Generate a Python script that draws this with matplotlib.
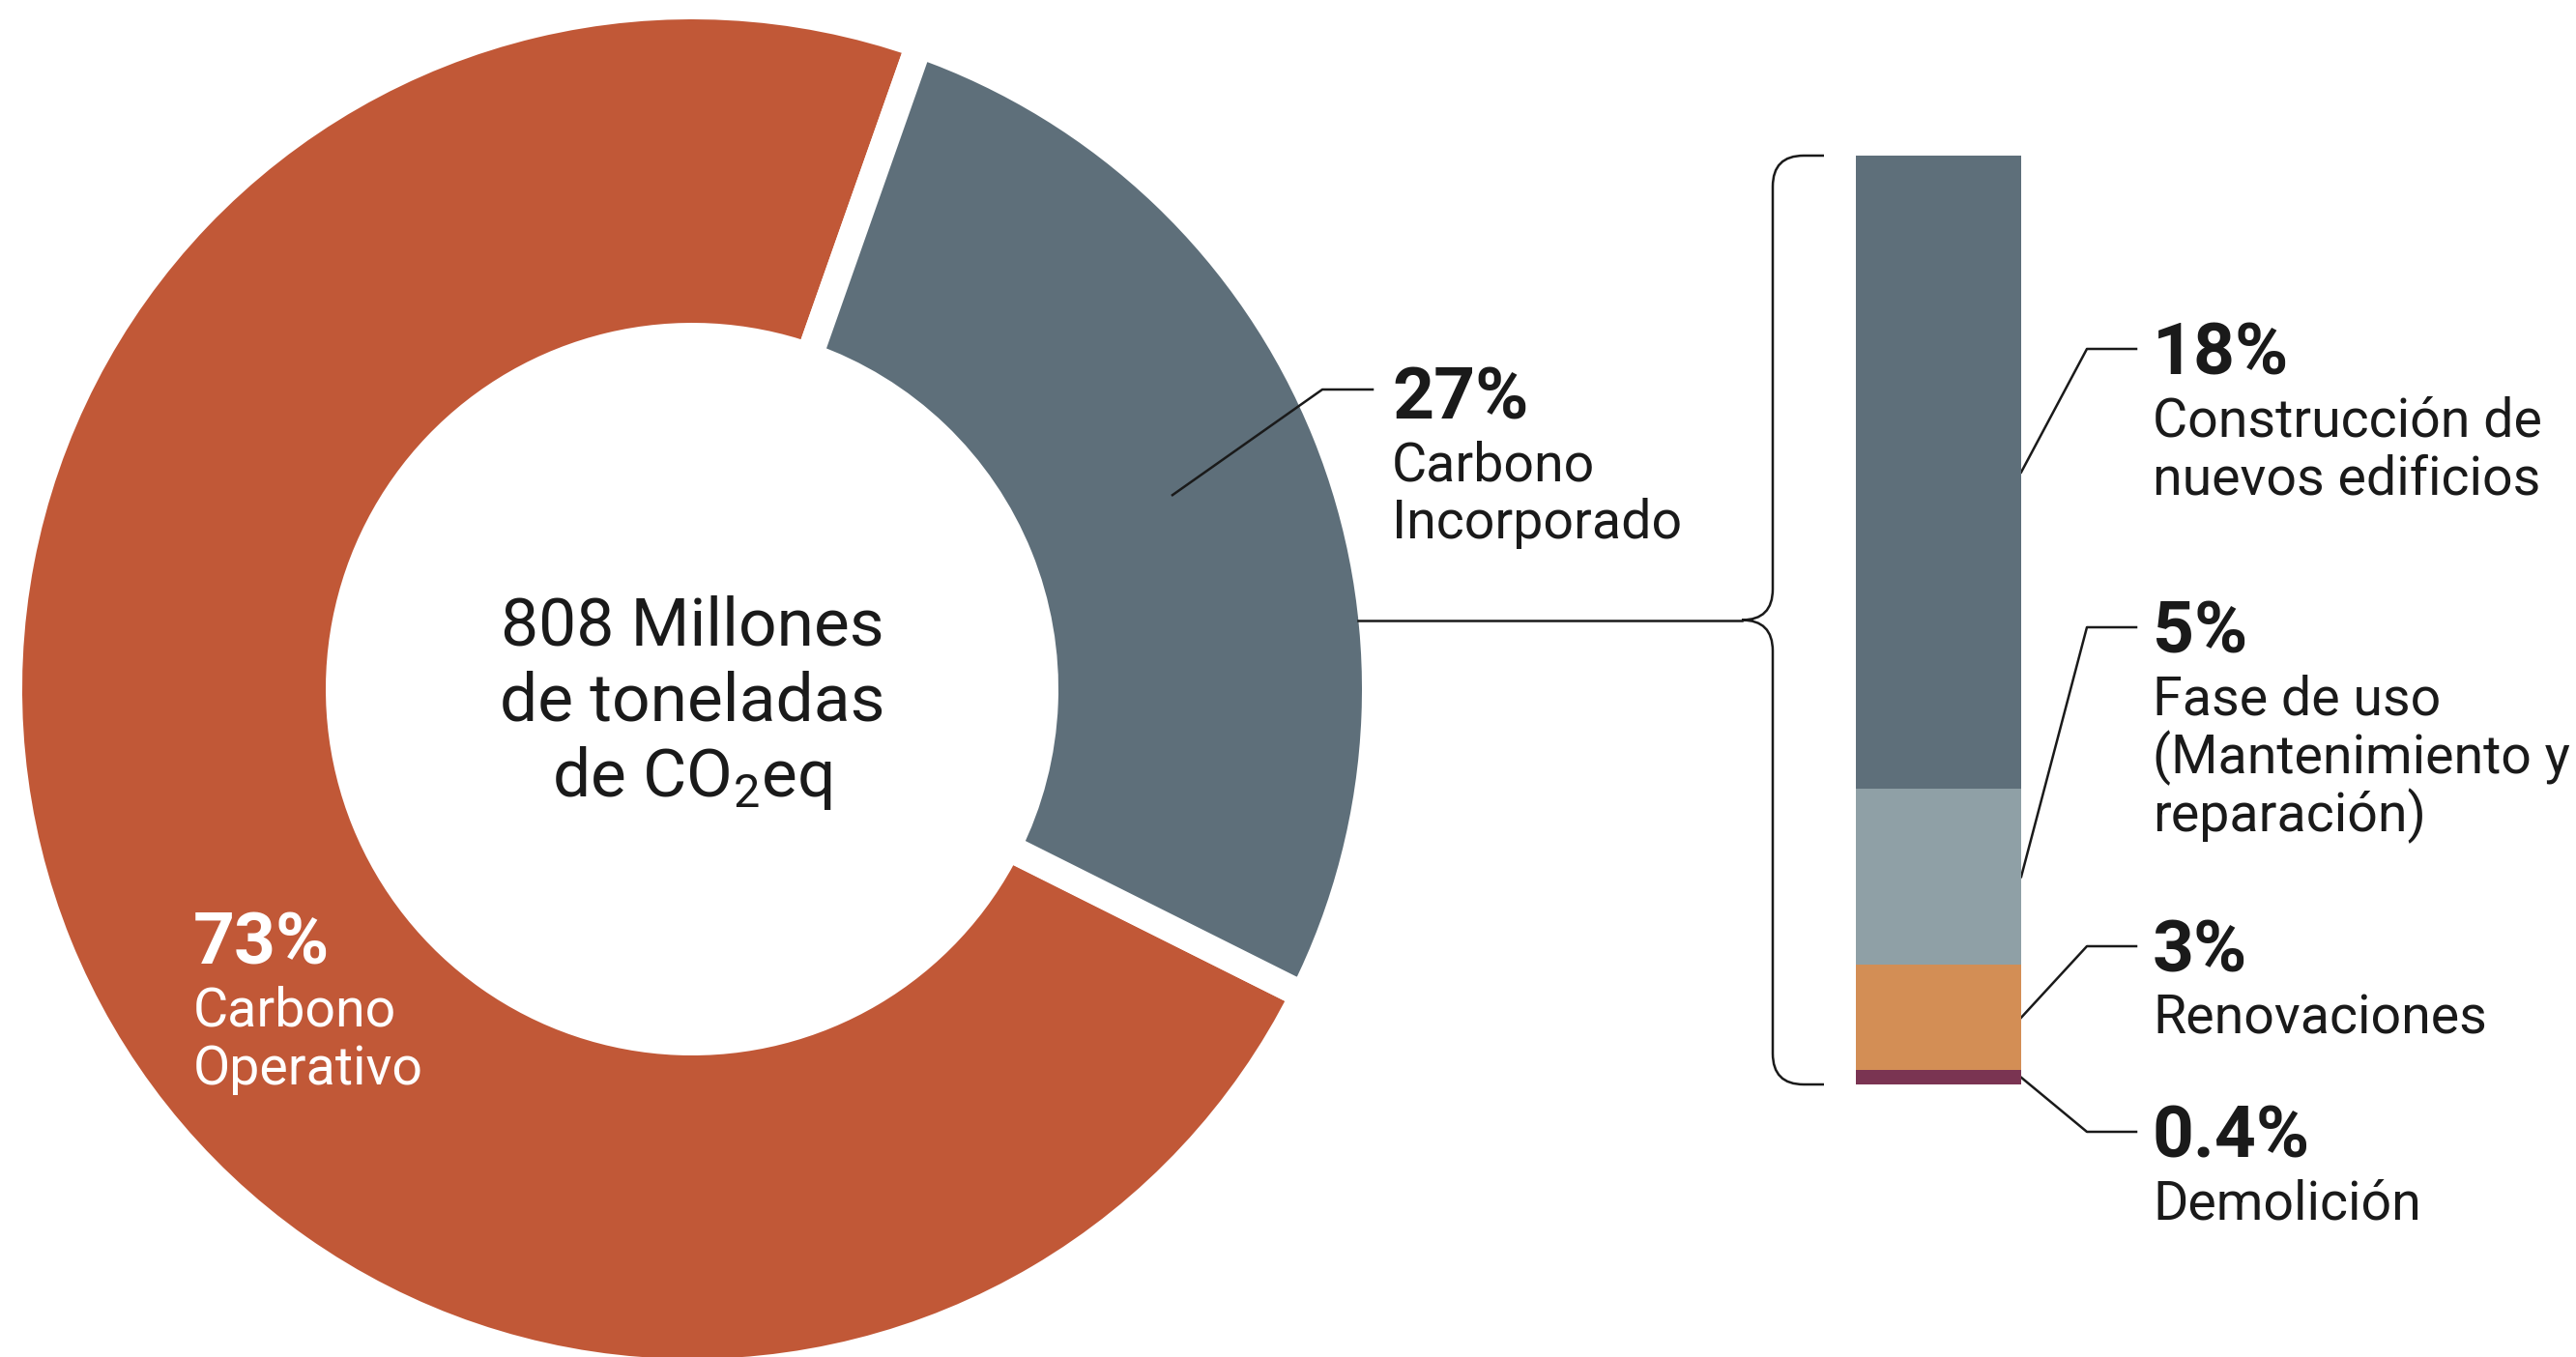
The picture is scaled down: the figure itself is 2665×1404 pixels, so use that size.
import numpy as np
import matplotlib.pyplot as plt
from matplotlib.path import Path
from matplotlib.patches import PathPatch

plt.rcParams['font.family'] = 'Roboto'
plt.rcParams['mathtext.fontset'] = 'custom'
plt.rcParams['mathtext.rm'] = 'Roboto'

W, H = 2665, 1404

# total emissions split (%)
main_pct = ['73%', '27%']
main_names = ['Carbono\nOperativo', 'Carbono\nIncorporado']
main_values = [73, 27]
main_colors = ['#C15837', '#5E6F7A']

# embodied carbon split (%)
sub_pct = ['18%', '5%', '3%', '0.4%']
sub_names = ['Construcción de\nnuevos edificios',
             'Fase de uso\n(Mantenimiento y\nreparación)',
             'Renovaciones',
             'Demolición']
sub_values = [18, 5, 3, 0.4]
sub_colors = ['#5E6F7A', '#8FA0A6', '#D38E55', '#7A3452']

center_lines = ['808 Millones', 'de toneladas', r'de CO$_\mathregular{2}$eq']

INK = '#1a1a1a'
PCT_SIZE = 54
NAME_SIZE = 40
LINE_GAP = 60


def label(ax, x, y, pct, name, color=INK):
    ax.text(x, y, pct, fontsize=PCT_SIZE, fontweight='bold', color=color,
            va='baseline', ha='left')
    for i, line in enumerate(name.split('\n')):
        ax.text(x, y + 64 + i * LINE_GAP, line, fontsize=NAME_SIZE,
                color=color, va='baseline', ha='left')


fig = plt.figure(figsize=(W / 100, H / 100), dpi=100)
ax = fig.add_axes([0, 0, 1, 1])

# donut
cx, cy = 716, 713
r_out, r_in = 693, 379
gap = 28
wedges, _ = ax.pie(main_values, colors=main_colors, startangle=26.6,
                   center=(cx, cy), radius=r_out + gap / 2, frame=True,
                   wedgeprops=dict(width=r_out - r_in + gap, edgecolor='white',
                                   linewidth=gap * 0.72))
ax.set_xlim(0, W)
ax.set_ylim(H, 0)
ax.set_aspect('equal')
ax.axis('off')

for i, line in enumerate(center_lines):
    ax.text(716, 668 + i * 78, line, fontsize=50, color=INK,
            ha='center', va='baseline')

label(ax, 200, 998, main_pct[0], main_names[0], color='white')

# leader for the embodied slice
w = wedges[1]
mid = np.deg2rad((w.theta1 + w.theta2) / 2)
rm = (r_out + r_in) / 2
sx, sy = cx + rm * np.cos(mid), cy + rm * np.sin(mid)
ax.plot([sx, 1368, 1420], [sy, 403, 403], color=INK, lw=1.8)
label(ax, 1440, 433, main_pct[1], main_names[1])

# stacked bar
bar_top, bar_bot = 161, 1122
bx0, bx1 = 1920, 2091
axb = fig.add_axes([bx0 / W, 1 - bar_bot / H, (bx1 - bx0) / W,
                    (bar_bot - bar_top) / H])
bottoms = np.concatenate([[0], np.cumsum(sub_values)[:-1]])
axb.bar(0, sub_values, bottom=bottoms, width=1, color=sub_colors)
axb.set_xlim(-0.5, 0.5)
axb.set_ylim(sum(sub_values), 0)
axb.axis('off')

# bracket and connector
tip_y = (bar_top + bar_bot) / 2
tip_x, spine_x, end_x = 1802, 1834, 1887
c = 32
verts = [(end_x, bar_top), (spine_x + c, bar_top),
         (spine_x, bar_top), (spine_x, bar_top + c),
         (spine_x, tip_y - c),
         (spine_x, tip_y), (tip_x, tip_y),
         (spine_x, tip_y), (spine_x, tip_y + c),
         (spine_x, bar_bot - c),
         (spine_x, bar_bot), (spine_x + c, bar_bot),
         (end_x, bar_bot)]
codes = [Path.MOVETO, Path.LINETO,
         Path.CURVE3, Path.CURVE3,
         Path.LINETO,
         Path.CURVE3, Path.CURVE3,
         Path.CURVE3, Path.CURVE3,
         Path.LINETO,
         Path.CURVE3, Path.CURVE3,
         Path.LINETO]
ax.add_patch(PathPatch(Path(verts, codes), fill=False, edgecolor=INK, lw=1.8))
edge_x = cx + np.sqrt(r_out ** 2 - (tip_y - cy) ** 2)
ax.plot([edge_x, tip_x], [tip_y, tip_y], color=INK, lw=1.8)

# leaders and labels for the bar segments
label_y = [388, 676, 1006, 1198]
to_main = ax.transData.inverted()
for v, b, pct, name, ly in zip(sub_values, bottoms, sub_pct, sub_names, label_y):
    px, py = to_main.transform(axb.transData.transform((0.5, b + v / 2)))
    ax.plot([px, 2159, 2210], [py, ly - 27, ly - 27], color=INK, lw=1.8)
    label(ax, 2227, ly, pct, name)

fig.savefig('out.png', dpi=100, facecolor='white')
